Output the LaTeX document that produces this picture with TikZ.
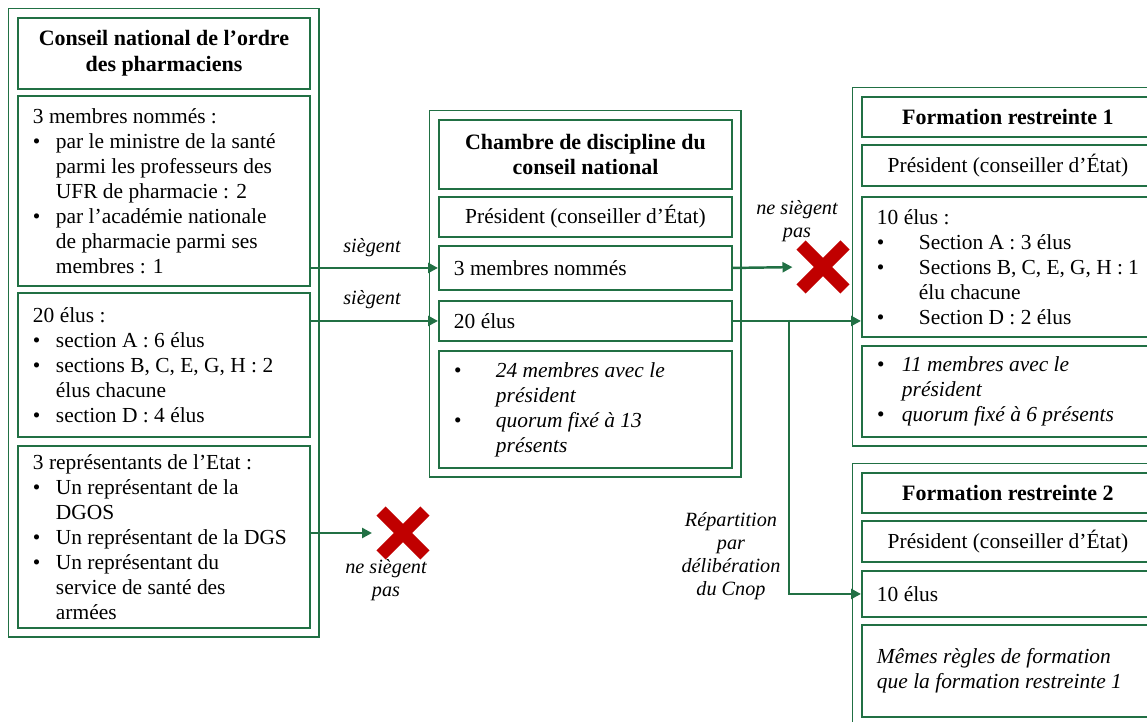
\documentclass[tikz,border=0pt]{standalone}
\usepackage{fontspec}
\setmainfont{Liberation Serif}
\usetikzlibrary{arrows.meta,shapes.misc,fit}
\definecolor{pine}{RGB}{33,112,68}
\definecolor{crimson}{RGB}{192,0,0}
\newcommand{\puce}[1][0.46cm]{\makebox[#1][l]{\textbullet}}
\newcommand{\retrait}[1][0.46cm]{\hspace*{#1}}
\tikzset{
  >={Triangle[length=2mm,width=2mm]},
  cell/.style={draw=pine,line width=1.1pt,anchor=north west,inner xsep=0.3cm,inner ysep=0pt,
    font=\fontsize{12.2}{14.2}\selectfont,text width=5.24cm,align=flush left},
  head/.style={cell,align=flush center,font=\fontsize{12.5}{14.6}\selectfont\bfseries},
  mid/.style={cell,align=flush center},
  slant/.style={cell,font=\fontsize{12.2}{14.2}\selectfont\itshape},
  group/.style={draw=pine,line width=1.1pt,inner sep=0.17cm},
  flow/.style={->,line width=1.4pt,draw=pine},
  tag/.style={font=\fontsize{11.5}{13}\selectfont\itshape,align=center},
  % croix rouge
  nope/.style={cross out,draw=crimson,line width=0.26cm,minimum size=0.62cm,inner sep=0pt},
}
\begin{document}
\begin{tikzpicture}[x=0.02cm,y=-0.02cm]
  \useasboundingbox (0,0) rectangle (1147,722);
  \clip (0,0) rectangle (1147,722);
  % conseil national
  \node[head,minimum height=1.42cm] (cn) at (17,17) {Conseil national de l’ordre\\des pharmaciens};
  \node[cell,minimum height=3.8cm] (nom) at (17,95) {3 membres nommés :\\
    \puce par le ministre de la santé\\\retrait parmi les professeurs des\\\retrait UFR de pharmacie : 2\\
    \puce par l’académie nationale\\\retrait de pharmacie parmi ses\\\retrait membres : 1};
  \node[cell,minimum height=2.88cm] (elu) at (17,292) {20 élus :\\
    \puce section A : 6 élus\\\puce sections B, C, E, G, H : 2\\\retrait élus chacune\\\puce section D : 4 élus};
  \node[cell,minimum height=3.64cm] (etat) at (17,445) {3 représentants de l’Etat :\\
    \puce Un représentant de la\\\retrait DGOS\\\puce Un représentant de la DGS\\
    \puce Un représentant du\\\retrait service de santé des\\\retrait armées};
  \node[group,fit=(cn)(etat)] (cnop) {};
  % chambre de discipline
  \node[head,text width=5.26cm,minimum height=1.38cm] (ch) at (438,119) {Chambre de discipline du\\conseil national};
  \node[mid,text width=5.26cm,minimum height=0.8cm] (chp) at (438,196) {Président (conseiller d’État)};
  \node[cell,text width=5.26cm,minimum height=0.88cm] (chn) at (438,245) {3 membres nommés};
  \node[cell,text width=5.26cm,minimum height=0.8cm] (che) at (438,300) {20 élus};
  \node[slant,text width=5.26cm,minimum height=2.34cm] (chq) at (438,350) {\puce[0.84cm]24 membres avec le\\
    \retrait[0.84cm]président\\\puce[0.84cm]quorum fixé à 13\\\retrait[0.84cm]présents};
  \node[group,fit=(ch)(chq)] (cdn) {};
  % formation restreinte 1
  \node[head,minimum height=0.8cm] (f1) at (861,96) {Formation restreinte 1};
  \node[mid,minimum height=0.82cm] (f1p) at (861,144) {Président (conseiller d’État)};
  \node[cell,minimum height=2.8cm] (f1e) at (861,196) {10 élus :\\
    \puce[0.84cm]Section A : 3 élus\\\puce[0.84cm]Sections B, C, E, G, H : 1\\
    \retrait[0.84cm]élu chacune\\\puce[0.84cm]Section D : 2 élus};
  \node[slant,minimum height=1.82cm] (f1q) at (861,345) {\puce[0.5cm]11 membres avec le\\
    \retrait[0.5cm]président\\\puce[0.5cm]quorum fixé à 6 présents};
  \node[group,fit=(f1)(f1q)] (fr1) {};
  % formation restreinte 2
  \node[head,minimum height=0.8cm] (f2) at (861,472) {Formation restreinte 2};
  \node[mid,minimum height=0.82cm] (f2p) at (861,520) {Président (conseiller d’État)};
  \node[cell,minimum height=0.92cm] (f2e) at (861,570) {10 élus};
  \node[slant,minimum height=1.84cm] (f2q) at (861,624) {Mêmes règles de formation\\que la formation restreinte 1};
  \node[group,fit=(f2)(f2q)] (fr2) {};
  % croix
  \node[nope] (x1) at (403,533) {};
  \node[nope] (x2) at (823,267) {};
  % fleches
  \draw[flow] (nom.east |- chn.west) -- (chn.west);
  \draw[flow] (elu.east |- che.west) -- (che.west);
  \draw[flow,shorten >=0.18cm] (etat.east |- x1) -- (x1.west);
  \draw[flow,shorten >=0.17cm] (chn.east) -- (x2.west);
  \draw[flow] (che.east) -- (f1e.west |- che.east);
  \coordinate (split) at (789,320);
  \draw[flow] (split) |- (f2e.west);
  % etiquettes
  \node[tag] (s1) at (372,248) {siègent};
  \node[tag] (s2) at (372,300) {siègent};
  \node[tag] (np1) at (386,580) {ne siègent\\pas};
  \node[tag] (np2) at (797,221) {ne siègent\\pas};
  \node[tag] (rep) at (731,556) {Répartition\\par\\délibération\\du Cnop};
\end{tikzpicture}
\end{document}
